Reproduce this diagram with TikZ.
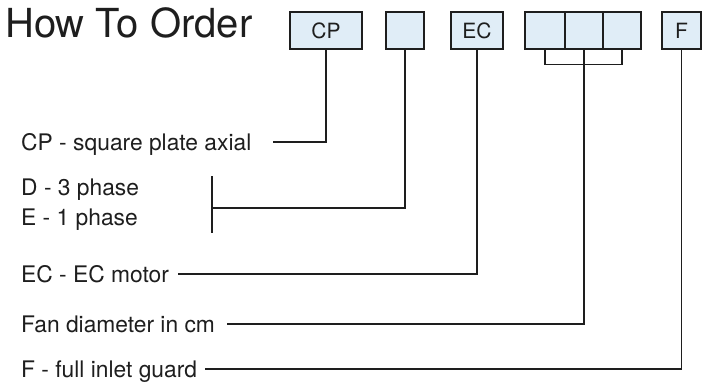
\documentclass[tikz,border=0pt]{standalone}
\usepackage{fontspec}
\setmainfont{TeX Gyre Heros}
\definecolor{boxfill}{RGB}{224,237,247}
\definecolor{ink}{RGB}{30,30,30}
\tikzset{
  codebox/.style={draw=ink,line width=1.4pt,fill=boxfill,minimum height=37pt,
    inner sep=0pt,text=ink,font=\fontsize{21}{25}\selectfont},
  lbl/.style={anchor=base west,inner sep=0pt,text=ink,font=\fontsize{22.8}{27}\selectfont},
  wire/.style={draw=ink,line width=1.2pt}
}
\begin{document}
\begin{tikzpicture}[line cap=butt,line join=miter,x=1pt,y=-1pt]
\useasboundingbox (0,0) rectangle (707,383);
% title
\node[anchor=base west,inner sep=0pt,text=ink,font=\fontsize{40}{48}\selectfont] (title) at (5,37) {How To Order};
% code boxes
\node[codebox,minimum width=72pt] (cp) at (326,30.5) {CP};
\node[codebox,minimum width=38pt] (ph) at (405,30.5) {};
\node[codebox,minimum width=52pt] (ec) at (477,30.5) {EC};
\node[codebox,minimum width=40pt] (d1) at (545,30.5) {};
\node[codebox,minimum width=38pt] (d2) at (584,30.5) {};
\node[codebox,minimum width=38pt] (d3) at (622,30.5) {};
\node[codebox,minimum width=39pt] (fg) at (681.5,30.5) {F};
% labels
\node[lbl] (lcp) at (21,150) {CP - square plate axial};
\node[lbl] (ld) at (21,195) {D - 3 phase};
\node[lbl] (le) at (21,225) {E - 1 phase};
\node[lbl] (lec) at (21,282) {EC - EC motor};
\node[lbl] (lfan) at (21,332) {Fan diameter in cm};
\node[lbl] (lfg) at (21,377) {F - full inlet guard};
% line ends
\coordinate (cpend) at (273,142);
\coordinate (phend) at (212,208);
\coordinate (phtop) at (212,176);
\coordinate (phbot) at (212,233);
\coordinate (ecend) at (178,274);
\coordinate (fanend) at (227,324);
\coordinate (fgend) at (205,369);
% connectors
\draw[wire] (cp.south) |- (cpend);
\draw[wire] (ph.south) |- (phend);
\draw[wire] (phtop) -- (phbot);
\draw[wire] (ec.south) |- (ecend);
\draw[wire] (d1.south) -- ++(0,15) -| (d3.south);
\draw[wire] (d2.south) |- (fanend);
\draw[wire] (fg.south) |- (fgend);
\end{tikzpicture}
\end{document}
